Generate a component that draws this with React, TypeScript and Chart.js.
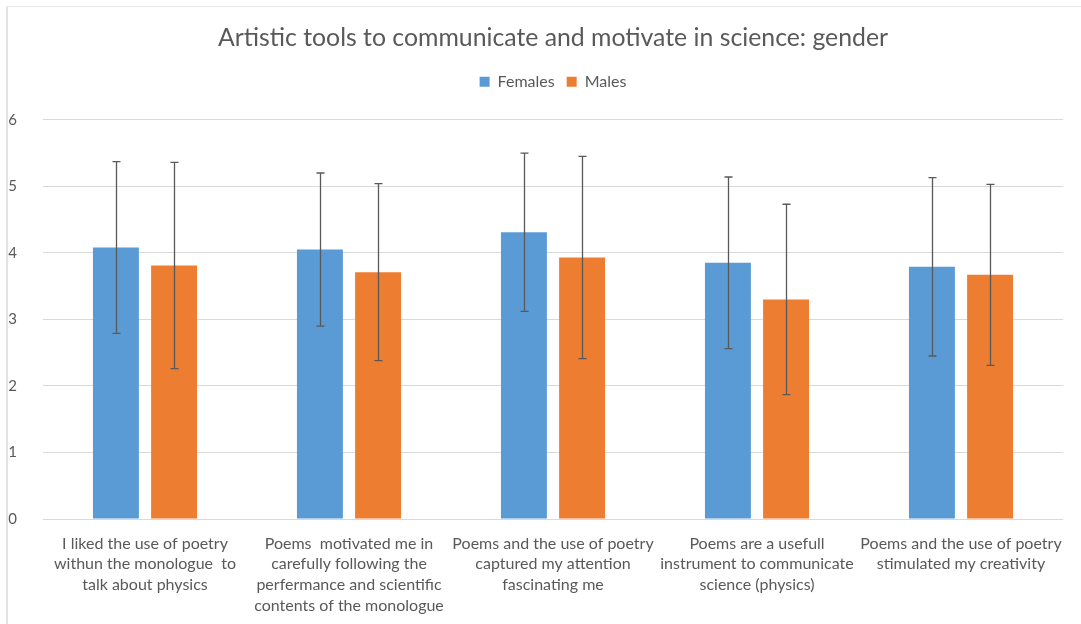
import React, { useEffect, useRef } from "react";
import { Chart, registerables } from "chart.js";

Chart.register(...registerables);

const categories: string[][] = [
  ["I liked the use of poetry", "withun the monologue  to", "talk about physics"],
  ["Poems  motivated me in", "carefully following the", "perfermance and scientific", "contents of the monologue"],
  ["Poems and the use of poetry", "captured my attention", "fascinating me"],
  ["Poems are a usefull", "instrument to communicate", "science (physics)"],
  ["Poems and the use of poetry", "stimulated my creativity"],
];

const femalesMean: number[] = [4.08, 4.05, 4.31, 3.85, 3.79];
const femalesSD: number[] = [1.29, 1.15, 1.19, 1.29, 1.34];
const malesMean: number[] = [3.81, 3.71, 3.93, 3.30, 3.67];
const malesSD: number[] = [1.55, 1.33, 1.52, 1.43, 1.36];

const yTicks: number[] = [0, 1, 2, 3, 4, 5, 6];

const FONT = "Lato";
const TEXT = "#595959";

const errorBarPlugin = {
  id: "errorBars",
  afterDatasetsDraw(chart: any) {
    const ctx = chart.ctx;
    const yScale = chart.scales.y;
    const sds = [femalesSD, malesSD];
    ctx.save();
    ctx.strokeStyle = "#595959";
    ctx.lineWidth = 1.3;
    chart.data.datasets.forEach((ds: any, i: number) => {
      const meta = chart.getDatasetMeta(i);
      meta.data.forEach((el: any, j: number) => {
        const v = ds.data[j];
        const sd = sds[i][j];
        const x = Math.round(el.x) + 0.5;
        const yT = yScale.getPixelForValue(v + sd);
        const yB = yScale.getPixelForValue(v - sd);
        ctx.beginPath();
        ctx.moveTo(x, yT);
        ctx.lineTo(x, yB);
        ctx.moveTo(x - 4, yT);
        ctx.lineTo(x + 4, yT);
        ctx.moveTo(x - 4, yB);
        ctx.lineTo(x + 4, yB);
        ctx.stroke();
      });
    });
    ctx.restore();
  },
};

const legendSpacer = {
  id: "legendSpacer",
  beforeInit(chart: any) {
    const legend = chart.legend;
    if (!legend) return;
    const orig = legend.fit;
    legend.fit = function () {
      orig.call(this);
      this.height += 20;
    };
  },
};

export default function App() {
  const ref = useRef<HTMLCanvasElement | null>(null);
  useEffect(() => {
    if (!ref.current) return;
    const chart = new Chart(ref.current, {
      type: "bar",
      data: {
        labels: categories,
        datasets: [
          { label: "Females", data: femalesMean, backgroundColor: "#5B9BD5" },
          { label: "Males", data: malesMean, backgroundColor: "#ED7D31" },
        ],
      },
      options: {
        animation: false,
        responsive: false,
        maintainAspectRatio: false,
        layout: { padding: { top: 23, left: 0, right: 18, bottom: 0 } },
        datasets: {
          bar: { barPercentage: 0.79, categoryPercentage: 0.57 },
        },
        plugins: {
          title: {
            display: true,
            fullSize: false,
            text: "Artistic tools to communicate and motivate in science: gender",
            color: TEXT,
            font: { family: FONT, size: 24.8, weight: "normal" },
            padding: { top: 0, bottom: 9 },
          },
          legend: {
            display: true,
            fullSize: false,
            position: "top",
            labels: {
              color: TEXT,
              boxWidth: 10,
              boxHeight: 10,
              padding: 12,
              font: { family: FONT, size: 16 },
            },
          },
          tooltip: { enabled: false },
        },
        scales: {
          x: {
            grid: { display: false },
            border: { display: false },
            afterFit: (axis: any) => {
              axis.height = 105;
            },
            ticks: {
              color: TEXT,
              font: { family: FONT, size: 16, lineHeight: 1.3 },
              maxRotation: 0,
              autoSkip: false,
              padding: 6,
            },
          },
          y: {
            min: 0,
            max: 6,
            afterBuildTicks: (axis: any) => {
              axis.ticks = yTicks.map((v) => ({ value: v }));
            },
            afterFit: (axis: any) => {
              axis.width = 43;
            },
            grid: { color: "#d9d9d9", drawTicks: false, lineWidth: 1 },
            border: { display: false },
            ticks: {
              color: TEXT,
              font: { family: FONT, size: 15 },
              padding: 26,
            },
          },
        },
      },
      plugins: [errorBarPlugin, legendSpacer],
    });
    return () => chart.destroy();
  }, []);
  return (
    <div style={{ position: "fixed", left: 0, top: 0, width: 1081, height: 624, background: "#fff" }}>
      <div style={{ position: "absolute", left: 6, top: 6, width: 1075, height: 618, borderTop: "1px solid #e8e8e8", borderLeft: "2px solid #e4e4e4" }} />
      <canvas ref={ref} width={1081} height={624} style={{ position: "absolute", left: 0, top: 0 }} />
    </div>
  );
}
